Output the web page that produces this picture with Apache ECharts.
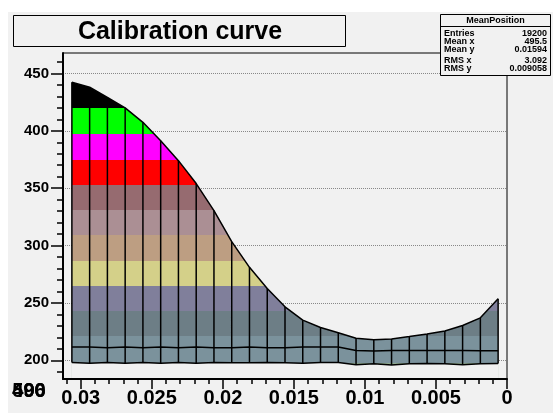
<!DOCTYPE html>
<html>
<head>
<meta charset="utf-8">
<script src="https://cdn.jsdelivr.net/npm/echarts@6/dist/echarts.min.js"></script>
<style>
html, body { margin: 0; padding: 0; background: #ffffff; }
#chart { width: 553px; height: 415px; }
</style>
</head>
<body>
<div id="chart"></div>
<script>
// bin centres along x (position), left to right on the reversed axis
var positions = [0.030625, 0.029375, 0.028125, 0.026875, 0.025625, 0.024375, 0.023125, 0.021875,
    0.020625, 0.019375, 0.018125, 0.016875, 0.015625, 0.014375, 0.013125, 0.011875,
    0.010625, 0.009375, 0.008125, 0.006875, 0.005625, 0.004375, 0.003125, 0.001875, 0.000625];
var topEdge = [442.4, 438, 429, 420, 407.4, 391.4, 374, 354, 330.5, 303.4, 281, 262.6, 246.6,
    235, 228.6, 224, 219.2, 218, 218.6, 220.7, 223, 225.6, 230.3, 237, 253.6];
var midEdge = [211.5, 211.5, 211, 211.5, 211, 211.5, 211, 211.5, 211, 211, 211.5, 211, 211,
    211.5, 211.5, 211.5, 208.5, 208, 208.5, 208.5, 208.5, 208.5, 208.5, 208.3, 208.3];
var bottomEdge = [198, 197.5, 198, 197.5, 198, 197.5, 198, 197.5, 198, 197.8, 197.8, 198, 197.8,
    197.5, 198, 198, 196.2, 197, 196, 197, 197.2, 197, 196.2, 197, 197.2];

// colour levels (contour bands)
var bandEdges = [198, 221.3, 243.1, 264.9, 286.7, 309.4, 331.2, 353, 374.8, 397.4, 419.8];
var bandColors = ['#8ca88c', '#7b929c', '#6d7e86', '#807f9b', '#d4d089', '#bd9e82',
    '#ab8f94', '#966b70', '#ff0000', '#ff00ff', '#00ff00', '#000000'];

var xMajor = [0, 0.005, 0.01, 0.015, 0.02, 0.025, 0.03];
var xMinor = [0.001, 0.002, 0.003, 0.004, 0.006, 0.007, 0.008, 0.009, 0.011, 0.012, 0.013, 0.014,
    0.016, 0.017, 0.018, 0.019, 0.021, 0.022, 0.023, 0.024, 0.026, 0.027, 0.028, 0.029, 0.031];
var yMajor = [200, 250, 300, 350, 400, 450];
var yMinor = [190, 210, 220, 230, 240, 260, 270, 280, 290, 310, 320, 330, 340, 360, 370, 380, 390,
    410, 420, 430, 440, 460];

var statNames = ['Entries', 'Mean x', 'Mean y', 'RMS x', 'RMS y'];
var statValues = ['19200', '495.5', '0.01594', '3.092', '0.009058'];

var bg = '#f1f1f1';
var font = 'Liberation Sans, Arial, Helvetica, sans-serif';

var pieces = [];
for (var i = 0; i < bandColors.length; i++) {
    var p = { color: bandColors[i] };
    if (i > 0) p.min = bandEdges[i - 1];
    if (i < bandEdges.length) p.max = bandEdges[i];
    pieces.push(p);
}

function pairs(ys) {
    return positions.map(function (x, i) { return [x, ys[i]]; });
}

// vertical mesh lines: bottom -> top at every bin, broken by nulls
var meshLines = [];
positions.forEach(function (x, i) {
    meshLines.push([x, bottomEdge[i]], [x, topEdge[i]], [x, null]);
});

var statsTop = 14, statsLeft = 440, statsW = 111;
var rowY = [33.5, 41.5, 49.5, 60.5, 68.5];
var graphics = [
    { type: 'rect', z: -100, silent: true, shape: { x: 8, y: 12, width: 545, height: 401 }, style: { fill: bg } },
    { type: 'rect', z: 50, shape: { x: 13.5, y: 15.5, width: 332, height: 31 }, style: { fill: bg, stroke: '#000', lineWidth: 1 } },
    { type: 'text', z: 51, x: 180, y: 32, style: { text: 'Calibration curve', fontSize: 25, fontWeight: 'bold', fontFamily: font, fill: '#000', align: 'center', verticalAlign: 'middle' } },
    { type: 'rect', z: 50, shape: { x: statsLeft + 0.5, y: statsTop + 0.5, width: statsW - 1, height: 61 }, style: { fill: bg, stroke: '#000', lineWidth: 1 } },
    { type: 'line', z: 51, shape: { x1: statsLeft, y1: 26.5, x2: statsLeft + statsW, y2: 26.5 }, style: { stroke: '#000', lineWidth: 1 } },
    { type: 'text', z: 51, x: statsLeft + statsW / 2, y: 20.5, style: { text: 'MeanPosition', fontSize: 9, fontWeight: 'bold', fontFamily: font, fill: '#000', align: 'center', verticalAlign: 'middle' } }
];
for (var k = 0; k < statNames.length; k++) {
    graphics.push({ type: 'text', z: 51, x: statsLeft + 4, y: rowY[k], style: { text: statNames[k], fontSize: 9, fontWeight: 'bold', fontFamily: font, fill: '#000', align: 'left', verticalAlign: 'middle' } });
    graphics.push({ type: 'text', z: 51, x: statsLeft + statsW - 4, y: rowY[k], style: { text: statValues[k], fontSize: 9, fontWeight: 'bold', fontFamily: font, fill: '#000', align: 'right', verticalAlign: 'middle' } });
}
// overlapping leftover labels in the lower left corner
['490', '500', '496'].forEach(function (t) {
    graphics.push({ type: 'text', z: 51, x: 29, y: 391, style: { text: t, fontSize: 20, fontWeight: 'bold', fontFamily: font, fill: '#000', align: 'center', verticalAlign: 'middle' } });
});

var gridBox = { left: 63, right: 46, top: 53, bottom: 36 };

var chart = echarts.init(document.getElementById('chart'));
var option = {
    animation: false,
    backgroundColor: '#ffffff',
    textStyle: { fontFamily: font },
    graphic: graphics,
    grid: [
        { left: gridBox.left, right: gridBox.right, top: gridBox.top, bottom: gridBox.bottom, show: true, borderColor: '#000', borderWidth: 1, backgroundColor: 'transparent' },
        { left: gridBox.left, right: gridBox.right, top: gridBox.top, bottom: gridBox.bottom, show: false }
    ],
    visualMap: {
        show: false,
        type: 'piecewise',
        seriesIndex: 0,
        dimension: 1,
        pieces: pieces
    },
    xAxis: [
        {
            type: 'value', gridIndex: 0, min: 0, max: 0.03125, inverse: true, position: 'bottom', z: 10,
            axisLine: { show: true, onZero: false, lineStyle: { color: '#000', width: 2 } },
            axisTick: { show: true, length: 10, customValues: xMajor, lineStyle: { color: '#000', width: 1.5 } },
            axisLabel: {
                customValues: xMajor, margin: 9, fontSize: 20, fontWeight: 'bold', color: '#000',
                formatter: function (v) { return String(parseFloat(v.toFixed(4))); }
            },
            splitLine: { show: false }
        },
        {
            type: 'value', gridIndex: 1, min: 0, max: 0.03125, inverse: true, position: 'bottom', z: 10,
            axisLine: { show: false, onZero: false },
            axisTick: { show: true, length: 5, customValues: xMinor, lineStyle: { color: '#000', width: 1.5 } },
            axisLabel: { show: false },
            splitLine: { show: false }
        }
    ],
    yAxis: [
        {
            type: 'value', gridIndex: 0, min: 183.7, max: 467.8, position: 'left',
            axisLine: { show: true, onZero: false, lineStyle: { color: '#000', width: 2 } },
            axisTick: { show: true, length: 12, customValues: yMajor, lineStyle: { color: '#000', width: 1.5 } },
            axisLabel: { customValues: yMajor, margin: 14, fontSize: 15, fontWeight: 'bold', color: '#000' },
            splitLine: { show: true, lineStyle: { color: '#888', type: 'dotted', width: 1 } }
        },
        {
            type: 'value', gridIndex: 1, min: 183.7, max: 467.8, position: 'left',
            axisLine: { show: false, onZero: false },
            axisTick: { show: true, length: 6, customValues: yMinor, lineStyle: { color: '#000', width: 1.5 } },
            axisLabel: { show: false },
            splitLine: { show: false }
        }
    ],
    series: [
        {
            type: 'line', data: pairs(topEdge), showSymbol: false, symbol: 'none',
            lineStyle: { color: '#000', width: 1.5 },
            areaStyle: { opacity: 1, origin: 'start' }
        },
        {
            type: 'line', data: pairs(bottomEdge), showSymbol: false, symbol: 'none',
            lineStyle: { color: '#000', width: 1.5 },
            areaStyle: { color: bg, opacity: 1, origin: 'start' }
        },
        {
            type: 'line', data: pairs(midEdge), showSymbol: false, symbol: 'none',
            lineStyle: { color: '#000', width: 1.5 }
        },
        {
            type: 'line', data: meshLines, showSymbol: false, symbol: 'none', connectNulls: false, z: 5,
            lineStyle: { color: '#000', width: 1.5 }
        }
    ]
};
chart.setOption(option);
</script>
</body>
</html>
